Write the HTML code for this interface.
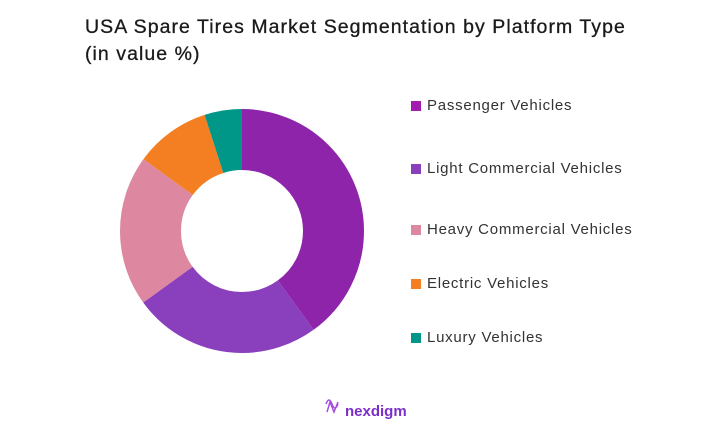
<!DOCTYPE html>
<html><head><meta charset="utf-8"><style>
body{margin:0;width:720px;height:435px;background:#fff;font-family:"Liberation Sans",sans-serif;position:relative;overflow:hidden}
.t{position:absolute;left:85px;top:14px;font-size:19.5px;color:#1a1a1a;line-height:27px;font-weight:normal;letter-spacing:1.05px;-webkit-text-stroke:0.3px #1a1a1a}
.l{position:absolute;left:411px;font-size:15px;color:#333;letter-spacing:0.75px}
.l i{display:inline-block;width:10px;height:10px;margin-right:6px;vertical-align:-1px}
</style></head><body>
<div class="t">USA Spare Tires Market Segmentation by Platform Type<br>(in value %)</div>
<svg width="720" height="435" style="position:absolute;left:0;top:0">
<g transform="rotate(-90 242 231)" fill="none" stroke-width="61">
<circle cx="242" cy="231" r="91.5" stroke="#8E24AA" stroke-dasharray="229.96 1000" stroke-dashoffset="0"/>
<circle cx="242" cy="231" r="91.5" stroke="#8A40BC" stroke-dasharray="143.72 1000" stroke-dashoffset="-229.96"/>
<circle cx="242" cy="231" r="91.5" stroke="#DD88A0" stroke-dasharray="114.98 1000" stroke-dashoffset="-373.68"/>
<circle cx="242" cy="231" r="91.5" stroke="#F47F22" stroke-dasharray="57.49 1000" stroke-dashoffset="-488.66"/>
<circle cx="242" cy="231" r="91.5" stroke="#009688" stroke-dasharray="28.75 1000" stroke-dashoffset="-546.15"/>
</g>
<path d="M326 404 q3 -8 6 0 t6 0 M327 412 l3 -10 4 10 4 -10" stroke="#a64de0" stroke-width="1.5" fill="none"/>
<text x="345" y="416" font-family="Liberation Sans,sans-serif" font-size="15" font-weight="bold" fill="#7b2fc9">nexdigm</text>
</svg>
<div class="l" style="top:97px"><i style="background:#A21CAF"></i>Passenger Vehicles</div>
<div class="l" style="top:160px"><i style="background:#8A40BC"></i>Light Commercial Vehicles</div>
<div class="l" style="top:221px"><i style="background:#DD88A0"></i>Heavy Commercial Vehicles</div>
<div class="l" style="top:275px"><i style="background:#F47F22"></i>Electric Vehicles</div>
<div class="l" style="top:329px"><i style="background:#009688"></i>Luxury Vehicles</div>
</body></html>
